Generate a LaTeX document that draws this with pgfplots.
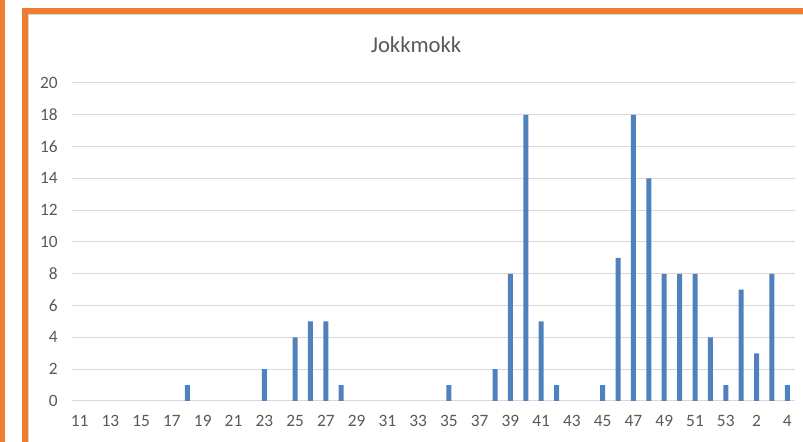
\documentclass[border=0pt]{standalone}
\usepackage{fontspec}
\setmainfont{Carlito}
\usepackage{pgfplots}
\pgfplotsset{compat=1.18}
\usepackage{pgfplotstable}
\definecolor{barblue}{RGB}{79,129,189}
\definecolor{frameorange}{RGB}{237,125,49}
\definecolor{txtgray}{RGB}{89,89,89}
\definecolor{gridgray}{RGB}{217,217,217}

% idx = position on the axis (0 = week 11, 43 = week 1), n = count
% weeks with no count are left out
\pgfplotstableread{
idx week n
7 18 1
12 23 2
14 25 4
15 26 5
16 27 5
17 28 1
24 35 1
27 38 2
28 39 8
29 40 18
30 41 5
31 42 1
34 45 1
35 46 9
36 47 18
37 48 14
38 49 8
39 50 8
40 51 8
41 52 4
42 53 1
43 1 7
44 2 3
45 3 8
46 4 1
}\weeks

\begin{document}
\begin{tikzpicture}
  % frame in pixel units, origin moved to the lower left corner of the axis
  \begin{scope}[x=0.75pt, y=-0.75pt, shift={(-72,-401)}]
    \useasboundingbox (0,0) rectangle (803,442);
    \fill[frameorange] (0,0) rectangle (5,442);
    \fill[frameorange] (22,8) rectangle (28,442);
    \fill[frameorange] (22,8) rectangle (803,14);
    \draw[gridgray, line width=0.75pt] (28.5,442) -- (28.5,14.5) -- (803,14.5);
    \node[txtgray, font=\fontsize{17}{20}\selectfont] at (416,45) {Jokkmokk};
  \end{scope}
  \begin{axis}[
      at={(0,0)}, anchor=south west,
      scale only axis, width=542.25pt, height=238.5pt,
      xmin=-0.5, xmax=46.5, ymin=0, ymax=20,
      axis x line*=bottom, axis y line*=left,
      axis line style={draw=none},
      major tick length=0pt,
      ymajorgrids, grid style={gridgray, line width=0.75pt},
      ytick={0,2,...,20},
      xtick={0,2,...,46},
      xticklabels={11,13,15,17,19,21,23,25,27,29,31,33,35,37,39,41,43,45,47,49,51,53,2,4},
      /pgf/number format/assume math mode=true,
      ticklabel style={txtgray, font=\fontsize{13}{15}\selectfont},
      xticklabel style={anchor=base, yshift=-19.5pt},
      yticklabel style={anchor=east, inner sep=0pt, xshift=-10.5pt},
    ]
    \addplot[ybar, bar width=3.75pt, bar shift=0pt, fill=barblue, draw=none]
      table[x=idx, y=n] {\weeks};
  \end{axis}
\end{tikzpicture}
\end{document}
